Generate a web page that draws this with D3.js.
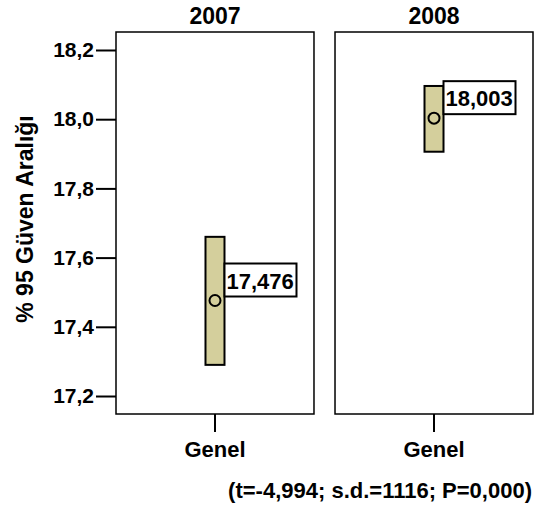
<!DOCTYPE html>
<html>
<head>
<meta charset="utf-8">
<script src="https://cdn.jsdelivr.net/npm/d3@7"></script>
<style>
  body { margin: 0; background: #fff; }
  text { font-family: "Liberation Sans", Arial, sans-serif; font-weight: bold; fill: #000; }
</style>
</head>
<body>
<div id="chart"></div>
<script>
const years = ["2007", "2008"];
const category = "Genel";
const means = [17.476, 18.003];
const lower = [17.29, 17.906];
const upper = [17.66, 18.096];
const yTicks = [17.2, 17.4, 17.6, 17.8, 18.0, 18.2];
const yTitle = "% 95 Güven Aralığı";
const footnote = "(t=-4,994; s.d.=1116; P=0,000)";

const WIDTH = 541, HEIGHT = 505;
const MARGINS = {top: 32, right: 8, bottom: 91, left: 116};

const tr = d3.formatLocale({decimal: ",", thousands: ".", grouping: [3], currency: ["", ""]});
const fmt1 = tr.format(".1f");
const fmt3 = tr.format(".3f");

const svg = d3.select("#chart")
    .append("svg")
        .attr("width", WIDTH)
        .attr("height", HEIGHT);

const y = d3.scaleLinear()
    .domain([17.148, 18.252])
    .range([HEIGHT - MARGINS.bottom, MARGINS.top]);

const panel = d3.scaleBand()
    .domain(years)
    .range([MARGINS.left, WIDTH - MARGINS.right])
    .paddingInner(0.096);

// y axis (left of first panel)
const yAxisCall = d3.axisLeft(y)
    .tickValues(yTicks)
    .tickFormat(fmt1)
    .tickSize(20)
    .tickPadding(2);

const yAxis = svg.append("g")
    .attr("transform", `translate(${MARGINS.left}, 0)`)
    .call(yAxisCall);
yAxis.select(".domain").remove();
yAxis.selectAll(".tick line").attr("stroke", "#000").attr("stroke-width", 2);
yAxis.selectAll(".tick text").style("font-size", "21px");

svg.append("text")
    .attr("transform", `translate(33, ${(y.range()[0] + y.range()[1]) / 2 - 4}) rotate(-90)`)
    .attr("text-anchor", "middle")
    .style("font-size", "23px")
    .text(yTitle);

years.forEach((yr, i) => {
    const x0 = panel(yr);
    const bw = panel.bandwidth();
    const g = svg.append("g");

    const x = d3.scaleBand()
        .domain([category])
        .range([x0, x0 + bw]);
    const cx = x(category) + x.bandwidth() / 2;

    // panel title
    g.append("text")
        .attr("x", x0 + bw / 2)
        .attr("y", 24)
        .attr("text-anchor", "middle")
        .style("font-size", "23px")
        .text(yr);

    // panel frame
    g.append("rect")
        .attr("x", x0)
        .attr("y", y.range()[1])
        .attr("width", bw)
        .attr("height", y.range()[0] - y.range()[1])
        .attr("fill", "none")
        .attr("stroke", "#000")
        .attr("stroke-width", 1.5);

    // x axis
    const xAxis = g.append("g")
        .attr("transform", `translate(0, ${y.range()[0]})`)
        .call(d3.axisBottom(x).tickSize(18).tickPadding(9));
    xAxis.select(".domain").remove();
    xAxis.selectAll(".tick line").attr("stroke", "#000").attr("stroke-width", 2);
    xAxis.selectAll(".tick text").style("font-size", "22px");

    // confidence interval bar
    const barW = 19;
    g.append("rect")
        .attr("x", cx - barW / 2)
        .attr("y", y(upper[i]))
        .attr("width", barW)
        .attr("height", y(lower[i]) - y(upper[i]))
        .attr("fill", "#d4cf9c")
        .attr("stroke", "#000")
        .attr("stroke-width", 2);

    g.append("circle")
        .attr("cx", cx)
        .attr("cy", y(means[i]))
        .attr("r", 5.5)
        .attr("fill", "none")
        .attr("stroke", "#000")
        .attr("stroke-width", 2);

    // value label
    const bx = cx + barW / 2;
    const by = y(means[i]) - 37;
    g.append("rect")
        .attr("x", bx)
        .attr("y", by)
        .attr("width", 72)
        .attr("height", 33)
        .attr("fill", "#fff")
        .attr("stroke", "#000")
        .attr("stroke-width", 2);
    g.append("text")
        .attr("x", bx + 2)
        .attr("y", by + 25)
        .style("font-size", "22px")
        .text(fmt3(means[i]));
});

svg.append("text")
    .attr("x", WIDTH - 9)
    .attr("y", 498)
    .attr("text-anchor", "end")
    .style("font-size", "22px")
    .text(footnote);
</script>
</body>
</html>
